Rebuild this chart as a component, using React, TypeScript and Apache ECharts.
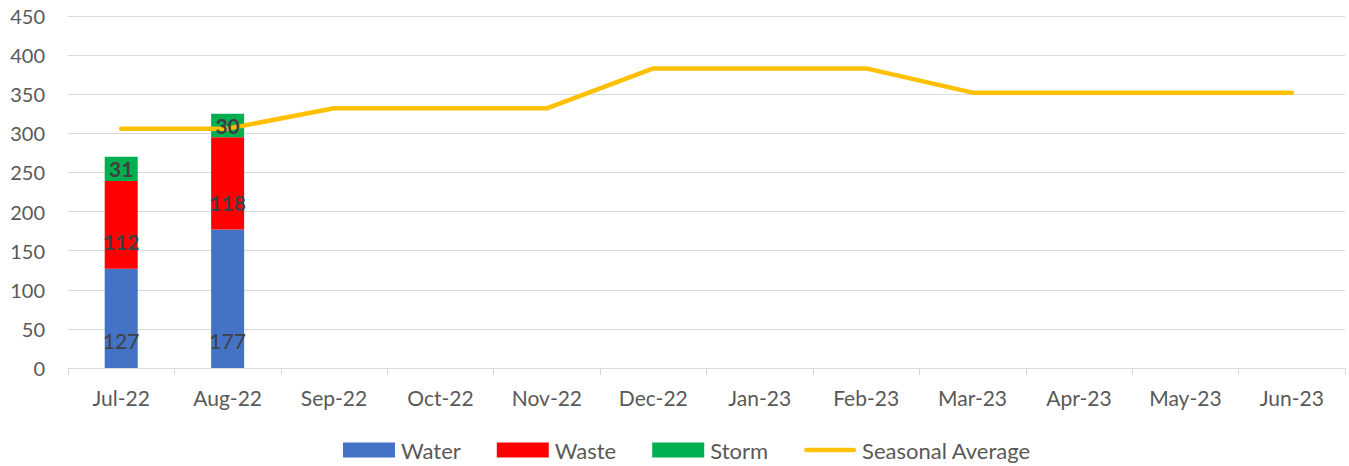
import React, { useEffect, useRef } from "react";
import * as echarts from "echarts";

const categories = ["Jul-22", "Aug-22", "Sep-22", "Oct-22", "Nov-22", "Dec-22", "Jan-23", "Feb-23", "Mar-23", "Apr-23", "May-23", "Jun-23"];
const water = [127, 177, null, null, null, null, null, null, null, null, null, null];
const waste = [112, 118, null, null, null, null, null, null, null, null, null, null];
const storm = [31, 30, null, null, null, null, null, null, null, null, null, null];
const seasonalAverage = [306, 306, 332, 332, 332, 383, 383, 383, 352, 352, 352, 352];

const FONT = "Lato, 'Noto Sans', sans-serif";
const LINE_ICON = "path://M2.5,0 H53.5 A2.5,2.5 0 0 1 53.5,5 H2.5 A2.5,2.5 0 0 1 2.5,0 Z";

export default function App() {
  const ref = useRef<HTMLDivElement>(null);
  useEffect(() => {
    if (!ref.current) return;
    const chart = echarts.init(ref.current, null, { renderer: "svg" });
    const labelBase = {
      show: true,
      color: "#404040",
      fontSize: 21,
      fontFamily: FONT,
    };
    const barParts = [
      { name: "Water", data: water, color: "#4472C4", label: { ...labelBase, position: "insideBottom", distance: 17, fontWeight: "normal" } },
      { name: "Waste", data: waste, color: "#FF0000", label: { ...labelBase, position: "insideBottom", distance: 17, fontWeight: "bold" } },
      { name: "Storm", data: storm, color: "#00B050", label: { ...labelBase, position: "inside", fontWeight: "bold" } },
    ];
    const baseBars = barParts.map((p) => ({
      name: p.name,
      type: "bar",
      stack: "total",
      data: p.data,
      barWidth: 33,
      barGap: "-100%",
      z: 2,
      itemStyle: { color: p.color },
      label: { show: false },
    }));
    const labelBars = barParts.map((p) => ({
      name: p.name + " label",
      type: "bar",
      stack: "labels",
      data: p.data,
      barWidth: 33,
      barGap: "-100%",
      z: 4,
      silent: true,
      itemStyle: { color: "rgba(0,0,0,0)" },
      label: p.label,
    }));
    chart.setOption({
      animation: false,
      textStyle: { fontFamily: FONT },
      grid: { left: 68, right: 4, top: 16, bottom: 98, containLabel: false },
      legend: {
        top: 434,
        left: 338,
        itemWidth: 52,
        itemHeight: 15,
        itemGap: 36,
        symbolKeepAspect: true,
        textStyle: { fontSize: 22, color: "#595959", fontFamily: FONT, padding: [0, 0, 0, 1] },
        data: [
          { name: "Water", icon: "rect" },
          { name: "Waste", icon: "rect" },
          { name: "Storm", icon: "rect" },
          { name: "Seasonal Average", icon: LINE_ICON, itemStyle: { color: "#FFC000" } },
        ],
      },
      xAxis: {
        type: "category",
        data: categories,
        axisLine: { lineStyle: { color: "#D9D9D9", width: 1 } },
        axisTick: { show: true, length: 7, lineStyle: { color: "#D9D9D9" } },
        axisLabel: { color: "#595959", fontSize: 21, margin: 19, fontFamily: FONT },
      },
      yAxis: {
        type: "value",
        min: 0,
        max: 450,
        interval: 50,
        axisLine: { show: false },
        axisTick: { show: false },
        splitLine: { lineStyle: { color: "#D9D9D9", width: 1 } },
        axisLabel: { color: "#595959", fontSize: 20, margin: 23, fontFamily: FONT },
      },
      series: [
        ...baseBars,
        {
          name: "Seasonal Average",
          type: "line",
          data: seasonalAverage,
          symbol: "none",
          showSymbol: false,
          z: 3,
          lineStyle: { color: "#FFC000", width: 4.5, cap: "round", join: "round" },
          itemStyle: { color: "#FFC000" },
        },
        ...labelBars,
      ],
    });
    return () => chart.dispose();
  }, []);
  return (
    <div
      ref={ref}
      style={{ position: "fixed", left: 0, top: 0, width: 1349, height: 466, background: "#fff" }}
    />
  );
}
